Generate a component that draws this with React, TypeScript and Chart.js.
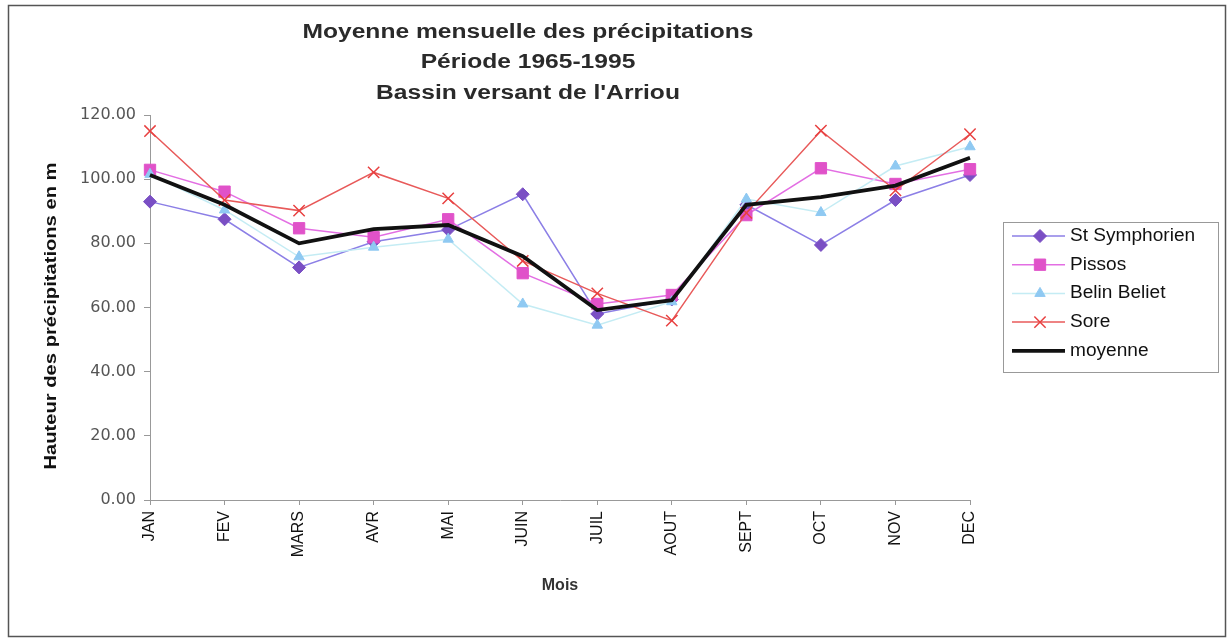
import React, { useEffect, useRef } from 'react';
import { Chart, registerables } from 'chart.js';
import { drawPoint } from 'chart.js/helpers';

Chart.register(...registerables);

const months = ['JAN', 'FEV', 'MARS', 'AVR', 'MAI', 'JUIN', 'JUIL', 'AOUT', 'SEPT', 'OCT', 'NOV', 'DEC'];
const stSymphorien = [93.0, 87.5, 72.5, 80.5, 84.2, 95.3, 58.0, 62.5, 92.0, 79.5, 93.5, 101.3];
const pissos = [102.9, 96.1, 84.7, 81.9, 87.5, 70.7, 61.1, 63.9, 88.8, 103.4, 98.5, 103.1];
const belinBeliet = [101.5, 90.4, 75.8, 78.8, 81.3, 61.1, 54.5, 61.8, 93.8, 89.6, 104.1, 110.1];
const sore = [115.0, 93.5, 90.2, 102.1, 94.0, 74.5, 64.4, 55.9, 89.5, 115.1, 96.5, 114.0];
const moyenne = [101.3, 92.0, 80.0, 84.4, 85.7, 76.0, 59.2, 62.3, 92.0, 94.4, 98.0, 106.7];
const seriesNames = ['St Symphorien', 'Pissos', 'Belin Beliet', 'Sore', 'moyenne'];
const titleLines = ['Moyenne mensuelle des précipitations', 'Période 1965-1995', "Bassin versant de l'Arriou"];
const yAxisTitle = 'Hauteur des précipitations en m';
const xAxisTitle = 'Mois';

const FONT = "'Liberation Sans', Arial, sans-serif";
const WIDE = "'DejaVu Sans', sans-serif";

function stretchedText(ctx: CanvasRenderingContext2D, text: string, x: number, y: number, sx: number) {
  ctx.save();
  ctx.translate(x, y);
  ctx.scale(sx, 1);
  ctx.fillText(text, 0, 0);
  ctx.restore();
}

const decorPlugin = {
  id: 'decor',
  beforeDraw(chart: any) {
    const ctx = chart.ctx;
    ctx.save();
    ctx.fillStyle = '#ffffff';
    ctx.fillRect(0, 0, chart.width, chart.height);
    ctx.strokeStyle = '#555';
    ctx.lineWidth = 1.5;
    ctx.strokeRect(8.5, 5.5, 1217, 631);
    ctx.restore();
  },
  afterDraw(chart: any) {
    const ctx = chart.ctx as CanvasRenderingContext2D;
    ctx.save();
    // Title
    ctx.fillStyle = '#2a2a2a';
    ctx.font = `bold 20px ${FONT}`;
    ctx.textAlign = 'center';
    ctx.textBaseline = 'middle';
    const tScale = 451 / ctx.measureText(titleLines[0]).width;
    const ty = [32, 62, 93];
    titleLines.forEach((t, i) => stretchedText(ctx, t, 528, ty[i], tScale));

    // Y axis title (rotated)
    ctx.save();
    ctx.font = `bold 16px ${FONT}`;
    ctx.fillStyle = '#111';
    const yScaleF = 307 / ctx.measureText(yAxisTitle).width;
    ctx.translate(52, 316);
    ctx.rotate(-Math.PI / 2);
    ctx.scale(yScaleF, 1);
    ctx.textAlign = 'center';
    ctx.textBaseline = 'middle';
    ctx.fillText(yAxisTitle, 0, 0);
    ctx.restore();

    // Legend
    ctx.strokeStyle = '#999';
    ctx.lineWidth = 1;
    ctx.strokeRect(1003.5, 222.5, 215, 150);
    chart.data.datasets.forEach((ds: any, i: number) => {
      const y = 236 + i * 28.7;
      ctx.strokeStyle = ds.borderColor;
      ctx.lineWidth = ds.borderWidth;
      ctx.beginPath();
      ctx.moveTo(1012, y);
      ctx.lineTo(1065, y);
      ctx.stroke();
      if (ds.pointRadius > 0) {
        ctx.fillStyle = ds.pointBackgroundColor;
        ctx.strokeStyle = ds.pointBorderColor;
        ctx.lineWidth = ds.pointBorderWidth;
        drawPoint(ctx, { pointStyle: ds.pointStyle, rotation: 0, radius: ds.pointRadius, borderWidth: ds.pointBorderWidth }, 1040, y);
      }
      ctx.fillStyle = '#111';
      ctx.font = `18px ${FONT}`;
      ctx.textAlign = 'left';
      ctx.textBaseline = 'middle';
      stretchedText(ctx, ds.label, 1070, y, 1.06);
    });
    ctx.restore();
  },
};

export default function App() {
  const ref = useRef<HTMLCanvasElement>(null);
  useEffect(() => {
    document.body.style.margin = '0';
    const chart = new Chart(ref.current as HTMLCanvasElement, {
      type: 'line',
      data: {
        labels: months,
        datasets: [
          {
            label: seriesNames[0], data: stSymphorien, borderColor: '#8c7fe6', borderWidth: 1.5,
            pointStyle: 'rectRot', pointRadius: 6.5, pointBackgroundColor: '#7a4fc4', pointBorderColor: '#7a4fc4', pointBorderWidth: 1, order: 4,
          },
          {
            label: seriesNames[1], data: pissos, borderColor: '#e36ee3', borderWidth: 1.5,
            pointStyle: 'rect', pointRadius: 8, pointBackgroundColor: '#e052c9', pointBorderColor: '#e052c9', pointBorderWidth: 1, order: 3,
          },
          {
            label: seriesNames[2], data: belinBeliet, borderColor: '#c4ecf4', borderWidth: 1.5,
            pointStyle: 'triangle', pointRadius: 6, pointBackgroundColor: '#8fc9f2', pointBorderColor: '#8fc9f2', pointBorderWidth: 1, order: 2,
          },
          {
            label: seriesNames[3], data: sore, borderColor: '#e85a5a', borderWidth: 1.5,
            pointStyle: 'crossRot', pointRadius: 8, pointBackgroundColor: '#e84040', pointBorderColor: '#e84040', pointBorderWidth: 1.5, order: 1,
          },
          {
            label: seriesNames[4], data: moyenne, borderColor: '#111111', borderWidth: 3.8,
            pointRadius: 0, order: 0,
          },
        ] as any,
      },
      options: {
        responsive: false,
        animation: false,
        devicePixelRatio: 1,
        layout: { padding: { left: 42, top: 115, right: 258, bottom: 45 } },
        plugins: { legend: { display: false }, title: { display: false }, tooltip: { enabled: false } },
        elements: { line: { tension: 0 } },
        scales: {
          x: {
            type: 'category',
            offset: false,
            afterFit: (s: any) => { s.height = 95; },
            grid: { display: true, drawOnChartArea: false, drawTicks: true, tickLength: 5, color: '#999' },
            border: { display: true, color: '#999', width: 1 },
            ticks: { autoSkip: false, minRotation: 90, maxRotation: 90, padding: 6, color: '#111', font: { family: FONT, size: 16 } },
            title: { display: true, text: xAxisTitle, color: '#333', padding: 0, font: { family: FONT, size: 16, weight: 'bold' } },
          },
          y: {
            min: 0,
            max: 120,
            afterFit: (s: any) => { s.width = 108; },
            grid: { display: true, drawOnChartArea: false, drawTicks: true, tickLength: 6, color: '#999' },
            border: { display: true, color: '#999', width: 1, dash: [4, 3] },
            ticks: { stepSize: 20, padding: 8, color: '#555', font: { family: WIDE, size: 16 }, callback: (v: any) => Number(v).toFixed(2) },
            title: { display: false, text: yAxisTitle },
          },
        },
      } as any,
      plugins: [decorPlugin],
    });
    return () => chart.destroy();
  }, []);
  return (
    <div style={{ width: 1228, height: 640 }}>
      <canvas ref={ref} width={1228} height={640} style={{ display: 'block' }} />
    </div>
  );
}
